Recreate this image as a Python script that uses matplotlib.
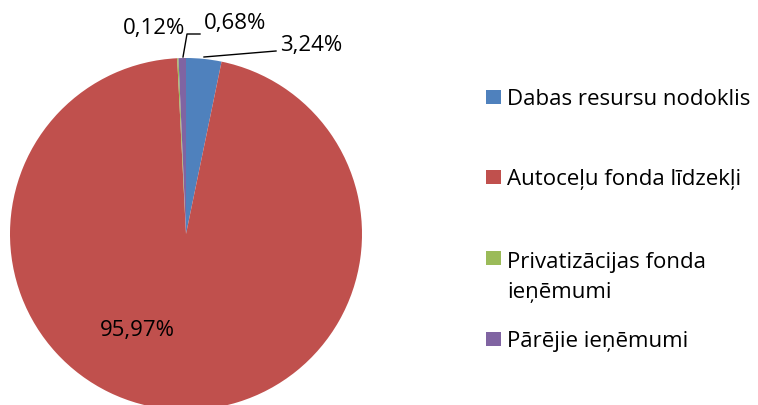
import matplotlib.pyplot as plt
from matplotlib.patches import Rectangle

# data
labels = ['Dabas resursu nodoklis', 'Autoceļu fonda līdzekļi',
          'Privatizācijas fonda\nieņēmumi', 'Pārējie ieņēmumi']
values = [3.24, 95.97, 0.12, 0.68]
pct_text = ['3,24%', '95,97%', '0,12%', '0,68%']
colors = ['#4F81BD', '#C0504D', '#9BBB59', '#8064A2']

plt.rcParams['font.family'] = ['Open Sans', 'DejaVu Sans']

W, H = 758, 406
fig = plt.figure(figsize=(W / 100, H / 100), dpi=100)

# pie centre (186, 235) px from top, radius 176 px
cx, cy, r = 186, 235, 176
ax = fig.add_axes([(cx - r) / W, (H - cy - r) / H, 2 * r / W, 2 * r / H])
ax.pie(values, colors=colors, startangle=90, counterclock=False,
       radius=1, wedgeprops=dict(linewidth=0))
ax.set_xlim(-1, 1)
ax.set_ylim(-1, 1)
ax.set_aspect('equal')
ax.axis('off')


def d(px, py):
    # pixel (from top-left) -> data coords of the pie axes
    return (px - cx) / r, (cy - py) / r


fs = 16
# percentage labels
ax.text(*d(280, 46), pct_text[0], fontsize=fs, ha='left', va='center', clip_on=False)
ax.plot(*zip(d(204, 58), d(276, 52)), color='black', lw=1, clip_on=False)
ax.text(*d(137, 331), pct_text[1], fontsize=fs, ha='center', va='center')
ax.text(*d(185, 28), pct_text[2], fontsize=fs, ha='right', va='center', clip_on=False)
ax.text(*d(204, 23), pct_text[3], fontsize=fs, ha='left', va='center', clip_on=False)
ax.plot(*zip(d(183, 58), d(187, 35), d(200, 35)), color='black', lw=1, clip_on=False)

# legend drawn by hand: square bottom = first-line baseline,
# text anchored at last-line baseline
square_y = [105, 185, 266, 347]
text_y = [105, 185, 298, 347]
for lab, col, sy, ty in zip(labels, colors, square_y, text_y):
    fig.patches.append(Rectangle((486 / W, (H - sy) / H), 15 / W, 14 / H,
                                 facecolor=col, transform=fig.transFigure))
    fig.text(507 / W, (H - ty) / H, lab, fontsize=fs, ha='left', va='baseline',
             linespacing=1.55)

fig.savefig('out.png', dpi=100)
